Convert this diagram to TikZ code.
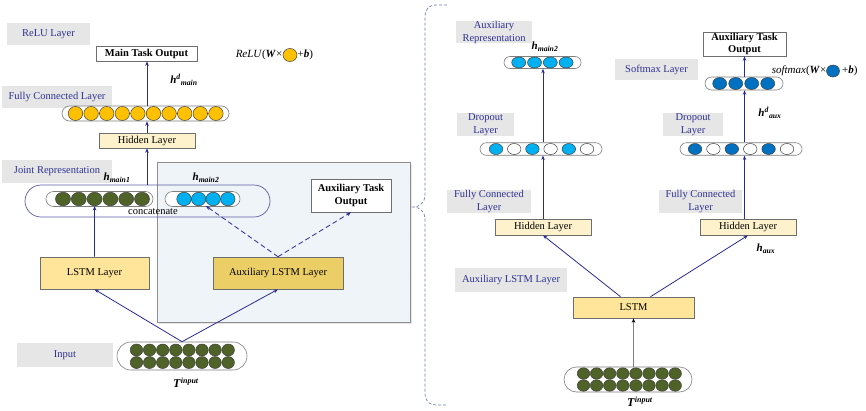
\documentclass[tikz,border=0pt]{standalone}
\usepackage{fontspec}
\setmainfont{Liberation Serif}
\usetikzlibrary{arrows.meta,shapes.geometric,calc}

\definecolor{lblgray}{HTML}{E6E6E6}
\definecolor{lbltext}{HTML}{2E3192}
\definecolor{arrowblue}{HTML}{2B2B95}
\definecolor{yellowc}{HTML}{FFC000}
\definecolor{greenc}{HTML}{4F6228}
\definecolor{lightbluec}{HTML}{00B0F0}
\definecolor{darkbluec}{HTML}{0070C0}
\definecolor{hidfill}{HTML}{FEF2CC}
\definecolor{lstmfill}{HTML}{FEE599}
\definecolor{auxfill}{HTML}{EBCF66}
\definecolor{panelfill}{HTML}{EEF4F8}
\definecolor{panelline}{HTML}{8E8E8E}
\definecolor{capsline}{HTML}{7F7F7F}
\definecolor{dotline}{HTML}{404040}
\definecolor{boxline}{HTML}{6E6E6E}
\definecolor{bracecol}{HTML}{7080A8}
\definecolor{jointline}{HTML}{5B5BA8}

\newcommand{\bivar}[1]{\textbf{\textit{#1}}}

\begin{document}
\begin{tikzpicture}[x=1pt,y=-1pt,
  lbl/.style={fill=lblgray, text=lbltext, inner sep=0pt, align=center,
    font=\fontsize{10.5}{13}\selectfont},
  box/.style={draw=boxline, line width=0.6pt, inner sep=0pt, align=center,
    font=\fontsize{10.5}{13}\selectfont},
  bbox/.style={box, fill=white, font=\fontsize{10.5}{12.5}\selectfont\bfseries},
  caps/.style={draw=capsline, fill=white, line width=0.6pt, inner sep=0pt},
  dot/.style={ellipse, draw=dotline, line width=0.5pt, inner sep=0pt},
  arr/.style={draw=arrowblue, line width=0.8pt, -{Stealth[length=4.5pt,width=3.5pt]}},
  darr/.style={arr, dash pattern=on 5pt off 3pt},
  var/.style={inner sep=0pt, font=\fontsize{11}{13}\selectfont},
  fml/.style={inner sep=0pt, font=\fontsize{11}{13}\selectfont},
]
\useasboundingbox (0,0) rectangle (866,410);
\fill[white] (0,0) rectangle (866,410);

% ---------- left part: joint model ----------
% auxiliary panel with a faint shadow
\fill[black!10] (158.5,163.5) rectangle (411.5,323.5);
\node[draw=panelline, fill=panelfill, line width=0.6pt, inner sep=0pt,
  minimum width=253pt, minimum height=160pt] (panel) at (283.5,242) {};

% layer labels
\node[lbl, minimum width=83pt, minimum height=22pt] (lrelu) at (48.5,34) {ReLU Layer};
\node[lbl, minimum width=110pt, minimum height=22pt] (lfc) at (57,97) {Fully Connected Layer};
\node[lbl, minimum width=110pt, minimum height=23pt] (ljoint) at (57,171.5) {Joint Representation};
\node[lbl, minimum width=96pt, minimum height=24pt] (linput) at (65,355) {Input};

% output and hidden boxes
\node[bbox, minimum width=101pt, minimum height=15pt] (mainout) at (146.5,53.5) {Main Task Output};
\node[box, fill=hidfill, minimum width=96pt, minimum height=15pt] (hid) at (147,140.5) {Hidden Layer};

% fully connected row
\node[caps, minimum width=167pt, minimum height=15pt, rounded corners=7.5pt] (fc) at (145.5,113.5) {};
\foreach \i in {0,...,9}
  \node[dot, fill=yellowc, minimum width=14.5pt, minimum height=14pt] (y\i) at ({75.5+15.6*\i},113.5) {};

% joint representation
\node[draw=jointline, line width=0.7pt, inner sep=0pt, minimum width=245pt,
  minimum height=32pt, rounded corners=16pt] (joint) at (147.5,201) {};
\node[caps, minimum width=107pt, minimum height=15pt, rounded corners=7.5pt] (grow) at (99.5,199) {};
\foreach \i in {0,...,5}
  \node[dot, fill=greenc, minimum width=15pt, minimum height=13.5pt] (g\i) at ({63+15.8*\i},199) {};
\node[caps, minimum width=75pt, minimum height=15pt, rounded corners=7.5pt] (brow) at (202.5,199) {};
\foreach \i in {0,...,3}
  \node[dot, fill=lightbluec, minimum width=14.5pt, minimum height=13.5pt] (b\i) at ({184+14.6*\i},199) {};
\node[inner sep=0pt, font=\fontsize{10.5}{13}\selectfont] (concat) at (153,212) {concatenate};

% variable labels
\node[var] (hdmain) at (184,80) {\bivar{h}\textsuperscript{\bivar{d}}\textsubscript{\bivar{main}}};
\node[var] (hm1) at (117,178) {\bivar{h}\textsubscript{\bivar{main1}}};
\node[var] (hm2) at (206,178) {\bivar{h}\textsubscript{\bivar{main2}}};
\node[var, font=\fontsize{12}{14}\selectfont] (tin) at (186,383) {\bivar{T}\textsuperscript{\bivar{input}}};

% ReLU formula
\node[fml, anchor=east] (relua) at (282.5,55) {\textit{ReLU}(\bivar{W}×};
\node[dot, fill=yellowc, minimum width=14pt, minimum height=13pt] (reluc) at (290,55) {};
\node[fml, anchor=west] (relub) at (297.5,55) {+\bivar{b})};

% LSTM boxes
\node[box, fill=lstmfill, minimum width=109pt, minimum height=32pt] (lstm1) at (94.5,273) {LSTM Layer};
\node[box, fill=auxfill, minimum width=130pt, minimum height=32pt] (auxl) at (278,273) {Auxiliary LSTM Layer};
\node[bbox, minimum width=80pt, minimum height=33pt] (auxout) at (351,195.5) {Auxiliary Task\\Output};

% input tensor
\node[caps, minimum width=130pt, minimum height=28pt, rounded corners=14pt] (inp) at (182,356) {};
\foreach \r/\yy in {0/350,1/362.5}
  \foreach \i in {0,...,7}
    \node[dot, fill=greenc, minimum width=12.5pt, minimum height=12pt] (i\r\i) at ({136.5+13.1*\i},\yy) {};

% connectors, left part
\draw[arr] (inp.north) -- (lstm1.south);
\draw[arr] (inp.north) -- (auxl.south);
\draw[arr] (lstm1.north) -- (g2.south);
\draw[darr] (auxl.north) -- ($(b1.south)!0.5!(b2.south)$);
\draw[darr] (auxl.north) -- (auxout.south);
\draw[arr] (hid.south |- joint.north) -- (hid.south);
\draw[arr] (hid.north) -- (hid.north |- fc.south);
\draw[arr] (hid.north |- fc.north) -- (hid.north |- mainout.south);

% ---------- brace ----------
\draw[bracecol, line width=0.7pt, dash pattern=on 3pt off 2pt]
  (447,5) -- (436,5) .. controls (429,5) and (425,9) .. (425,17)
  -- (425,195) .. controls (425,202) and (420,207) .. (413,207)
  .. controls (420,207) and (425,212) .. (425,219)
  -- (425,393) .. controls (425,401) and (429,405) .. (436,405) -- (447,405);

% ---------- right part: auxiliary model ----------
\node[lbl, minimum width=76pt, minimum height=22pt] (lauxrep) at (494,32) {Auxiliary\\Representation};
\node[lbl, minimum width=57pt, minimum height=23pt] (ldrop1) at (485.5,124.5) {Dropout\\Layer};
\node[lbl, minimum width=84pt, minimum height=23pt] (lfc1) at (489,201.5) {Fully Connected\\Layer};
\node[lbl, minimum width=112pt, minimum height=24pt] (lauxlstm) at (511,280) {Auxiliary LSTM Layer};
\node[lbl, minimum width=83pt, minimum height=21pt] (lsoft) at (656.5,69.5) {Softmax Layer};
\node[lbl, minimum width=60pt, minimum height=23pt] (ldrop2) at (693,124.5) {Dropout\\Layer};
\node[lbl, minimum width=83pt, minimum height=23pt] (lfc2) at (700.5,201.5) {Fully Connected\\Layer};

% auxiliary representation row
\node[caps, minimum width=77pt, minimum height=12pt, rounded corners=6pt] (reprow) at (542.5,62.5) {};
\foreach \i in {0,...,3}
  \node[dot, fill=lightbluec, minimum width=14pt, minimum height=11pt] (r\i) at ({518.7+15.8*\i},62.5) {};
\node[var] (hm2r) at (545,47) {\bivar{h}\textsubscript{\bivar{main2}}};

% dropout rows
\node[caps, minimum width=122pt, minimum height=12.5pt, rounded corners=6.25pt] (drop1) at (541,149) {};
\foreach \i/\c in {0/lightbluec,1/white,2/lightbluec,3/white,4/lightbluec,5/white}
  \node[dot, fill=\c, minimum width=13.5pt, minimum height=11pt] (d\i) at ({496+18.2*\i},149) {};
\node[caps, minimum width=122pt, minimum height=12.5pt, rounded corners=6.25pt] (drop2) at (741,149) {};
\foreach \i/\c in {0/darkbluec,1/white,2/darkbluec,3/white,4/darkbluec,5/white}
  \node[dot, fill=\c, minimum width=13.5pt, minimum height=11pt] (e\i) at ({695+18.4*\i},149) {};

% softmax row
\node[caps, minimum width=78pt, minimum height=13pt, rounded corners=6.5pt] (softrow) at (744,83.5) {};
\foreach \i in {0,...,3}
  \node[dot, fill=darkbluec, minimum width=14pt, minimum height=12pt] (s\i) at ({719.7+16*\i},83.5) {};

% boxes
\node[bbox, minimum width=83pt, minimum height=24pt] (auxoutr) at (744.5,44) {Auxiliary Task\\Output};
\node[box, fill=hidfill, minimum width=96pt, minimum height=16pt] (hidl) at (543,227) {Hidden Layer};
\node[box, fill=hidfill, minimum width=96pt, minimum height=16pt] (hidr) at (748,227) {Hidden Layer};
\node[box, fill=lstmfill, minimum width=121pt, minimum height=21pt] (lstm2) at (633.5,307.5) {LSTM};

% input tensor
\node[caps, minimum width=128pt, minimum height=25pt, rounded corners=12.5pt] (inpr) at (628,379.5) {};
\foreach \r/\yy in {0/373.5,1/385.5}
  \foreach \i in {0,...,7}
    \node[dot, fill=greenc, minimum width=12.5pt, minimum height=11.5pt] (j\r\i) at ({583.5+13.1*\i},\yy) {};
\node[var, font=\fontsize{12}{14}\selectfont] (tinr) at (640,402) {\bivar{T}\textsuperscript{\bivar{input}}};

% variable labels and softmax formula
\node[var] (hdaux) at (770,113) {\bivar{h}\textsuperscript{\bivar{d}}\textsubscript{\bivar{aux}}};
\node[var] (haux) at (766,249) {\bivar{h}\textsubscript{\bivar{aux}}};
\node[fml, anchor=east] (softa) at (826.5,71) {\textit{softmax}(\bivar{W}×};
\node[dot, fill=darkbluec, minimum width=13pt, minimum height=12pt] (softc) at (833,71) {};
\node[fml, anchor=west] (softb) at (842,71) {+\bivar{b})};

% connectors, right part
\draw[black!50, line width=0.8pt, -{Stealth[length=4.5pt,width=3.5pt,black]}]
  (lstm2.south |- inpr.north) -- (lstm2.south);
\draw[arr] ([xshift=-13pt]lstm2.north) -- (hidl.south);
\draw[arr] ([xshift=17pt]lstm2.north) -- (hidr.south);
\draw[arr] (hidl.north) -- (hidl.north |- drop1.south);
\draw[arr] (hidl.north |- drop1.north) -- (hidl.north |- reprow.south);
\draw[arr] (auxoutr.south |- hidr.north) -- (auxoutr.south |- drop2.south);
\draw[arr] (auxoutr.south |- drop2.north) -- (auxoutr.south |- softrow.south);
\draw[arr] (auxoutr.south |- softrow.north) -- (auxoutr.south);

\end{tikzpicture}
\end{document}
